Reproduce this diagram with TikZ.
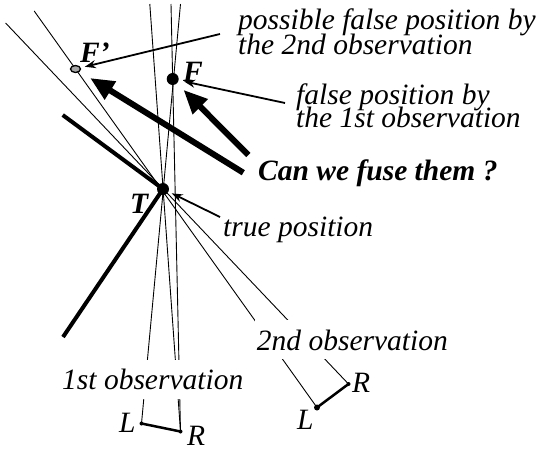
\documentclass[tikz,border=0pt]{standalone}
\usepackage{fontspec}
\setmainfont{Liberation Serif}
\usetikzlibrary{arrows.meta,shapes.geometric}
\begin{document}
\begin{tikzpicture}[x=1pt,y=-1pt,
  ray/.style={line width=0.9pt},
  txt/.style={font=\fontsize{29.5}{24}\selectfont\itshape, anchor=base west, inner sep=0pt},
  btxt/.style={font=\fontsize{29.5}{24}\selectfont\bfseries\itshape, anchor=base west, inner sep=0pt},
  obslabel/.style={txt, fill=white},
  bigdot/.style={circle, fill=black, inner sep=0pt, minimum size=12pt},
  camdot/.style={circle, fill=black, inner sep=0pt, minimum size=#1},
  ghost/.style={ellipse, draw=black, line width=1.3pt, fill=black!35, inner sep=0pt, minimum width=10pt, minimum height=7pt},
  thinarrow/.style={line width=1.8pt, -{Stealth[length=11pt,width=8pt]}},
  bigarrow/.style={line width=6pt, -{Triangle[length=24pt,width=20pt]}},
  stereo/.style={line width=2.5pt},
  wall/.style={line width=4pt}
]
\useasboundingbox (0,0) rectangle (541,448);
\fill[white] (0,0) rectangle (541,448);

% key points
\coordinate (Tc) at (163,189);
\coordinate (Fc) at (172.7,79);
\coordinate (Fpc) at (75.5,69);
\coordinate (L1) at (141.5,423.5);
\coordinate (R1) at (180.5,431.5);
\coordinate (L2) at (317,407.5);
\coordinate (R2) at (348.5,384);
% far ends of the rays
\coordinate (tA) at (180.5,4);
\coordinate (tB) at (149.8,4);
\coordinate (tC) at (171.0,4);
\coordinate (tD) at (34.2,11);
\coordinate (tE) at (5.6,23);

% rays
\draw[ray] (L1) -- (tA);
\draw[ray] (R1) -- (tB);
\draw[ray] (R1) -- (tC);
\draw[ray] (L2) -- (tD);
\draw[ray] (R2) -- (tE);

% observation labels (cut the rays)
\node[obslabel, text height=29.3pt, text depth=9.7pt] (obs1) at (62,389.3) {1st observation};
\node[obslabel, inner xsep=2pt, text height=30.7pt, text depth=8.6pt] (obs2) at (254.7,350.7) {2nd observation};

% stereo baselines
\draw[stereo] (L1) -- (R1);
\draw[stereo] (L2) -- (R2);
\node[camdot=4pt] (cL1) at (L1) {};
\node[camdot=4pt] (cR1) at (R1) {};
\node[camdot=6pt] (cL2) at (L2) {};
\node[camdot=4pt] (cR2) at (R2) {};

% thick bent line through T
\coordinate (w1) at (62.7,115);
\coordinate (w2) at (63,337);
\draw[wall] (w1) -- (Tc) -- (w2);

% points
\node[bigdot] (T) at (Tc) {};
\node[bigdot] (F) at (Fc) {};
\node[ghost] (Fp) at (Fpc) {};

% arrows
\coordinate (s1) at (220,34);
\coordinate (s2) at (285,103);
\coordinate (s3) at (220,217);
\coordinate (c1) at (243.3,172.7);
\coordinate (c2) at (248.3,155);
\draw[thinarrow, shorten >=4pt] (s1) -- (Fp);
\draw[thinarrow, shorten >=5.4pt] (s2) -- (F);
\draw[thinarrow, shorten >=3.5pt] (s3) -- (T);
\draw[bigarrow, shorten >=12pt] (c1) -- (Fp);
\draw[bigarrow, shorten >=9pt] (c2) -- (F);

% labels
\node[btxt] (lFp) at (80,62) {F’};
\node[btxt] (lF) at (183,81.5) {F};
\node[btxt] (lT) at (130,213) {T};
\node[txt] (pos1) at (238,29.3) {possible false position by};
\node[txt] (pos2) at (238,54) {the 2nd observation};
\node[txt] (fal1) at (296,104) {false position by};
\node[txt] (fal2) at (296,127.5) {the 1st observation};
\node[btxt] (fuse) at (258,180) {Can we fuse them ?};
\node[txt] (truep) at (223,236) {true position};
\node[txt] (lL1) at (119,432) {L};
\node[txt] (lR1) at (187,445.5) {R};
\node[txt] (lR2) at (352,392) {R};
\node[txt] (lL2) at (297,429) {L};
\end{tikzpicture}
\end{document}
